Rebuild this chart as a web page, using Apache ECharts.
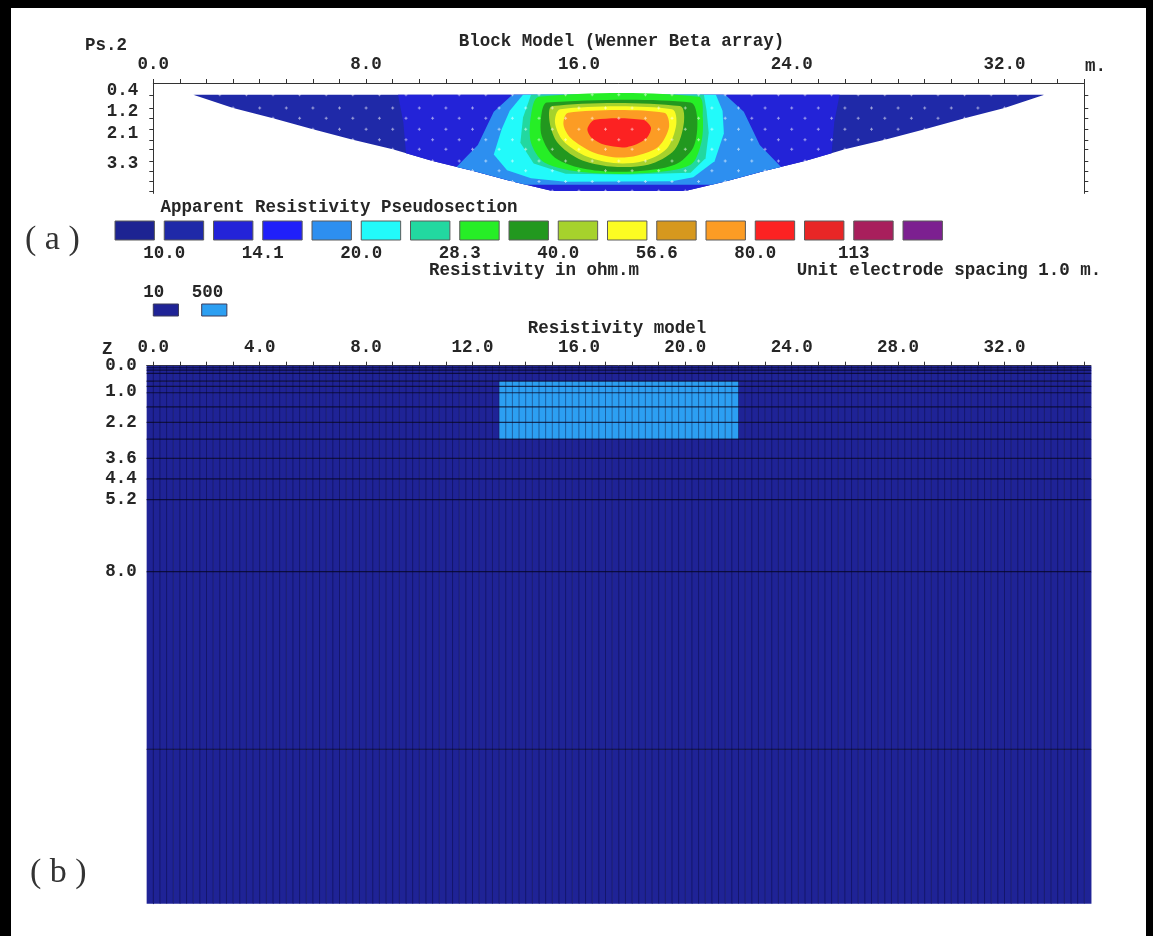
<!DOCTYPE html>
<html><head><meta charset="utf-8">
<script src="https://cdn.jsdelivr.net/npm/echarts@6/dist/echarts.min.js"></script>
<style>html,body{margin:0;padding:0;background:#fff}#c{width:1153px;height:936px}</style>
</head><body><div id="c"></div>
<script>
// ===== DATA =====
// pseudosection data levels (pseudo depth) and first/last datum position of each level
const levelDepth = [0.55, 1.08, 1.48, 1.92, 2.34, 2.71, 3.18, 3.57, 4.0, 4.37];
const levelStart = [1.5, 3, 4.5, 6, 7.5, 9, 10.5, 12, 13.5, 15];
const levelEnd   = [33.5, 32, 30.5, 29, 27.5, 26, 24.5, 23, 21.5, 20];
const topXLabels = [0, 8, 16, 24, 32];
const topYLabels = [0.4, 1.2, 2.1, 3.3];
// contour class boundaries (ohm.m) and colour classes
const contourLevels = [10.0, 11.9, 14.1, 16.8, 20.0, 23.8, 28.3, 33.6, 40.0, 47.6, 56.6, 67.3, 80.0, 95.1, 113, 134.5];
const legendLabels = ['10.0', '14.1', '20.0', '28.3', '40.0', '56.6', '80.0', '113'];
const palette = ['#1d2392', '#1f29a8', '#2323d8', '#2020fa', '#2d8ff0', '#22fafa', '#22d8a0', '#26ee26',
                 '#22981f', '#a6d22c', '#fcfc22', '#d6981e', '#fc9c24', '#fc2222', '#e82626', '#a81f5c', '#7c2090'];
// contour band outlines [x (m), pseudo depth], each = region with value above that class
const bandBlueWings = [[9.2,0.55],[25.8,0.55],[25.6,1.64],[25.5,2.87],[24.5,3.18],[23,3.57],[21.5,4.0],[20,4.37],[15,4.37],[13.5,4.0],[12,3.57],[10.5,3.18],[9.5,2.87],[9.4,1.64]];
const bandSky   = [[13.5,0.55],[21.5,0.55],[22.2,1.22],[22.8,2.55],[23.6,3.42],[23,3.57],[21.5,4.0],[21.0,4.12],[14.0,4.12],[13.5,4.0],[12,3.57],[11.4,3.42],[12.2,2.55],[12.8,1.22]];
const bandCyan  = [[13.9,0.55],[21.15,0.55],[21.4,1.18],[21.45,2.09],[21.1,3.19],[20.3,3.83],[19.5,3.99],[15.5,4.01],[14.2,3.87],[13.3,3.55],[12.8,2.92],[13.1,1.91],[13.4,1.18]];
const bandAqua  = [[14.2,0.55],[20.7,0.55],[20.8,1.18],[20.88,2.06],[20.76,3.07],[20.2,3.65],[17.9,3.72],[15.5,3.69],[14.3,3.28],[13.8,2.46],[13.9,1.45]];
const bandGreen = [[14.5,0.63],[20.5,0.63],[20.66,1.45],[20.6,2.46],[20.2,3.33],[18.5,3.66],[16.2,3.63],[14.7,3.24],[14.2,2.46],[14.2,1.36]];
const bandDkGreen = [[14.8,0.86],[20.2,0.86],[20.45,1.54],[20.3,2.64],[19.6,3.33],[18,3.6],[16.3,3.51],[15.1,3.05],[14.6,2.18],[14.6,1.27]];
const bandYlGreen = [[15.0,1.0],[19.8,1.0],[19.95,1.64],[19.6,2.73],[18.6,3.33],[17.2,3.4],[16.0,3.1],[15.2,2.46],[14.9,1.64]];
const bandYellow = [[15.3,1.12],[19.5,1.12],[19.66,1.73],[19.3,2.69],[18.4,3.19],[17.3,3.26],[16.2,2.96],[15.4,2.37],[15.1,1.64]];
const bandOrange = [[15.6,1.26],[19.2,1.26],[19.39,1.82],[19.0,2.6],[18.2,2.96],[17.4,3.04],[16.5,2.82],[15.7,2.28],[15.42,1.73]];
const bandRed   = [[16.6,1.54],[18.4,1.54],[18.71,1.86],[18.5,2.32],[17.8,2.63],[17.0,2.55],[16.5,2.28],[16.32,1.91]];

// resistivity model
const modelValues = [10, 500];
const modelColors = ['#1f2396', '#2c9ff2'];
const modelLayerEdges = [0, 0.08, 0.17, 0.3, 0.6, 0.8, 1.05, 1.6, 2.2, 2.85, 3.6, 4.4, 5.2, 8.0, 14.9, 20.9];
const modelXFrom = -0.25, modelXTo = 35.25, modelCellWidth = 0.25;
const modelBlock = [13, 22, 0.6, 2.85];  // x0, x1, z0, z1 of the 500 ohm.m block
const modelXLabels = [0, 4, 8, 12, 16, 20, 24, 28, 32];
const modelYLabels = [0, 1.0, 2.2, 3.6, 4.4, 5.2, 8.0];
const modelYTicks = [0, 0.08, 0.17, 0.3, 0.6, 0.8, 1.6, 2.2, 2.85, 3.6, 4.4, 5.2, 8.0];

// ===== BUILD =====
const trapezoid = [];
for (let i = 0; i < levelDepth.length; i++) trapezoid.push([levelStart[i], levelDepth[i]]);
for (let i = levelDepth.length - 1; i >= 0; i--) trapezoid.push([levelEnd[i], levelDepth[i]]);

const bands = [
  {pts: trapezoid, c: 1, smooth: 0},
  {pts: bandBlueWings, c: 2, smooth: 0},
  {pts: bandSky, c: 4, smooth: 0},
  {pts: bandCyan, c: 5, smooth: 0},
  {pts: bandAqua, c: 6, smooth: 0},
  {pts: bandGreen, c: 7, smooth: 0.3},
  {pts: bandDkGreen, c: 8, smooth: 0.3},
  {pts: bandYlGreen, c: 9, smooth: 0.3},
  {pts: bandYellow, c: 10, smooth: 0.3},
  {pts: bandOrange, c: 12, smooth: 0.3},
  {pts: bandRed, c: 13, smooth: 0.3}
];

const dots = [];
for (let i = 0; i < levelDepth.length; i++) {
  for (let x = levelStart[i]; x <= levelEnd[i] + 1e-6; x += 1) dots.push([x, levelDepth[i]]);
}

const xEdges = [];
for (let x = modelXFrom; x <= modelXTo + 1e-6; x += modelCellWidth) xEdges.push(+x.toFixed(3));
const cells = [];
for (let j = 0; j < modelLayerEdges.length - 1; j++) {
  for (let i = 0; i < xEdges.length - 1; i++) {
    const x0 = xEdges[i], x1 = xEdges[i + 1], z0 = modelLayerEdges[j], z1 = modelLayerEdges[j + 1];
    const inBlock = x0 >= modelBlock[0] - 1e-6 && x1 <= modelBlock[1] + 1e-6 && z0 >= modelBlock[2] - 1e-6 && z1 <= modelBlock[3] + 1e-6;
    cells.push([x0, x1, z0, z1, inBlock ? 1 : 0]);
  }
}
const modelXTicks = [];
for (let x = 0; x <= 35; x++) modelXTicks.push(x);

const FONT = 'Liberation Mono';
const T = {fontFamily: FONT, fontSize: 17.5, fontWeight: 'bold', color: '#262626'};
const axisCol = '#333';

const chart = echarts.init(document.getElementById('c'), null, {renderer: 'canvas', width: 1153, height: 936});

function txt(x, y, s, align, extra) {
  return {type: 'text', x: x, y: y, style: Object.assign({text: s, align: align || 'left', verticalAlign: 'middle',
    font: 'bold 17.5px "' + FONT + '"', fill: '#262626'}, extra || {})};
}

const option = {
  animation: false,
  backgroundColor: '#fff',
  grid: [
    {left: 153.3, top: 83, width: 931, height: 110.4},
    {left: 115, top: 221, width: 837.25, height: 19},
    {left: 153.3, top: 304, width: 96.8, height: 12},
    {left: 146.65, top: 365.7, width: 944.3, height: 538}
  ],
  xAxis: [
    {gridIndex: 0, type: 'value', min: 0, max: 35, interval: 1, position: 'top',
     axisLine: {lineStyle: {color: axisCol}}, axisTick: {length: 4, lineStyle: {color: axisCol}},
     splitLine: {show: false},
     axisLabel: Object.assign({customValues: topXLabels, formatter: v => v.toFixed(1), margin: 9}, T)},
    {gridIndex: 1, type: 'value', min: 0, max: 17, axisLine: {show: false}, axisTick: {show: false}, splitLine: {show: false},
     axisLabel: Object.assign({customValues: [1, 3, 5, 7, 9, 11, 13, 15], formatter: v => legendLabels[(v - 1) / 2], margin: 5}, T)},
    {gridIndex: 2, type: 'value', min: 0, max: 2, show: false},
    {gridIndex: 3, type: 'value', min: modelXFrom, max: modelXTo, position: 'top',
     axisLine: {lineStyle: {color: '#334'}}, axisTick: {customValues: modelXTicks, length: 4, lineStyle: {color: axisCol}},
     splitLine: {show: false},
     axisLabel: Object.assign({customValues: modelXLabels, formatter: v => v.toFixed(1), margin: 9}, T)}
  ],
  yAxis: [
    {gridIndex: 0, type: 'value', min: 0.082, max: 4.468, inverse: true, position: 'left',
     axisLine: {show: true, lineStyle: {color: axisCol}}, axisTick: {show: true, customValues: levelDepth, length: 4, lineStyle: {color: axisCol}},
     splitLine: {show: false},
     axisLabel: Object.assign({customValues: topYLabels, formatter: v => v.toFixed(1), margin: 15}, T)},
    {gridIndex: 0, type: 'value', min: 0.082, max: 4.468, inverse: true, position: 'right',
     axisLine: {show: true, lineStyle: {color: axisCol}}, axisTick: {show: true, customValues: levelDepth, length: 4, lineStyle: {color: axisCol}},
     splitLine: {show: false}, axisLabel: {show: false}},
    {gridIndex: 1, type: 'value', min: 0, max: 1, show: false},
    {gridIndex: 2, type: 'value', min: 0, max: 1, show: false},
    {gridIndex: 3, type: 'value', min: 0, max: 20.9, inverse: true, position: 'left',
     axisLine: {show: true, lineStyle: {color: '#223'}}, axisTick: {show: true, customValues: modelYTicks, length: 5, lineStyle: {color: axisCol}},
     splitLine: {show: false},
     axisLabel: Object.assign({customValues: modelYLabels, formatter: v => v.toFixed(1), margin: 10}, T)}
  ],
  series: [
    {type: 'custom', xAxisIndex: 0, yAxisIndex: 0, clip: true, silent: true,
     data: bands.map((b, i) => [i]),
     renderItem: function (params, api) {
       const b = bands[params.dataIndex];
       return {type: 'polygon', shape: {points: b.pts.map(p => api.coord(p)), smooth: b.smooth},
               style: {fill: palette[b.c], stroke: null}};
     }},
    {type: 'scatter', xAxisIndex: 0, yAxisIndex: 0, silent: true, data: dots,
     symbol: 'path://M1,0H2V1H3V2H2V3H1V2H0V1H1Z', symbolSize: 3,
     itemStyle: {color: 'rgba(255,255,255,0.7)'}},
    {type: 'custom', xAxisIndex: 1, yAxisIndex: 2, silent: true,
     data: palette.map((c, i) => [i]),
     renderItem: function (params, api) {
       const i = params.dataIndex;
       const p0 = api.coord([i, 1]), p1 = api.coord([i + 0.8, 0]);
       return {type: 'rect', shape: {x: p0[0], y: p0[1], width: p1[0] - p0[0], height: p1[1] - p0[1]},
               style: {fill: palette[i], stroke: '#5a5a5a', lineWidth: 1}};
     }},
    {type: 'custom', xAxisIndex: 2, yAxisIndex: 3, silent: true,
     data: modelValues.map((v, i) => [i]),
     renderItem: function (params, api) {
       const i = params.dataIndex;
       const p0 = api.coord([i, 1]), p1 = api.coord([i + 0.52, 0]);
       return {type: 'group', children: [
         {type: 'rect', shape: {x: p0[0], y: p0[1], width: p1[0] - p0[0], height: p1[1] - p0[1]},
          style: {fill: modelColors[i], stroke: '#3a3a5a', lineWidth: 1}},
         {type: 'text', x: p0[0] - 10, y: p0[1] - 11,
          style: {text: String(modelValues[i]), align: 'left', verticalAlign: 'middle', font: 'bold 17.5px "' + FONT + '"', fill: '#262626'}}
       ]};
     }},
    {type: 'custom', xAxisIndex: 3, yAxisIndex: 4, clip: true, silent: true,
     data: cells,
     renderItem: function (params, api) {
       const p0 = api.coord([api.value(0), api.value(2)]), p1 = api.coord([api.value(1), api.value(3)]);
       return {type: 'rect', shape: {x: p0[0], y: p0[1], width: p1[0] - p0[0] + 0.5, height: p1[1] - p0[1] + 0.5},
               style: {fill: modelColors[api.value(4)]}};
     }},
    {type: 'custom', xAxisIndex: 3, yAxisIndex: 4, clip: true, silent: true,
     data: xEdges.slice(1, -1).map(x => [x, 0]),
     renderItem: function (params, api) {
       const x = api.value(0);
       const p0 = api.coord([x, 0]), p1 = api.coord([x, 20.9]);
       return {type: 'line', shape: {x1: p0[0], y1: p0[1], x2: p1[0], y2: p1[1]},
               style: {stroke: 'rgba(8,8,50,0.42)', lineWidth: 1}};
     }},
    {type: 'custom', xAxisIndex: 3, yAxisIndex: 4, clip: true, silent: true,
     data: modelLayerEdges.slice(1, -1).map(z => [0, z]),
     renderItem: function (params, api) {
       const z = api.value(1);
       const p0 = api.coord([modelXFrom, z]), p1 = api.coord([modelXTo, z]);
       return {type: 'line', shape: {x1: p0[0], y1: p0[1], x2: p1[0], y2: p1[1]},
               style: {stroke: 'rgba(5,5,35,0.75)', lineWidth: 1.2}};
     }}
  ],
  graphic: [
    {type: 'rect', shape: {x: 0, y: 0, width: 11, height: 936}, style: {fill: '#000'}},
    {type: 'rect', shape: {x: 0, y: 0, width: 1153, height: 8}, style: {fill: '#000'}},
    {type: 'rect', shape: {x: 1146, y: 0, width: 7, height: 936}, style: {fill: '#000'}},
    txt(85, 46, 'Ps.2'),
    txt(621.5, 42, 'Block Model (Wenner Beta array)', 'center'),
    txt(1085, 67, 'm.'),
    txt(339, 208, 'Apparent Resistivity Pseudosection', 'center'),
    txt(534, 271, 'Resistivity in ohm.m', 'center'),
    txt(949, 271, 'Unit electrode spacing 1.0 m.', 'center'),
    txt(617, 329, 'Resistivity model', 'center'),
    txt(102, 350, 'Z'),
    txt(25, 240, '( a )', 'left', {font: '34px "Liberation Serif"', fill: '#333'}),
    txt(30, 873, '( b )', 'left', {font: '34px "Liberation Serif"', fill: '#333'})
  ]
};
chart.setOption(option);
</script>
</body></html>
